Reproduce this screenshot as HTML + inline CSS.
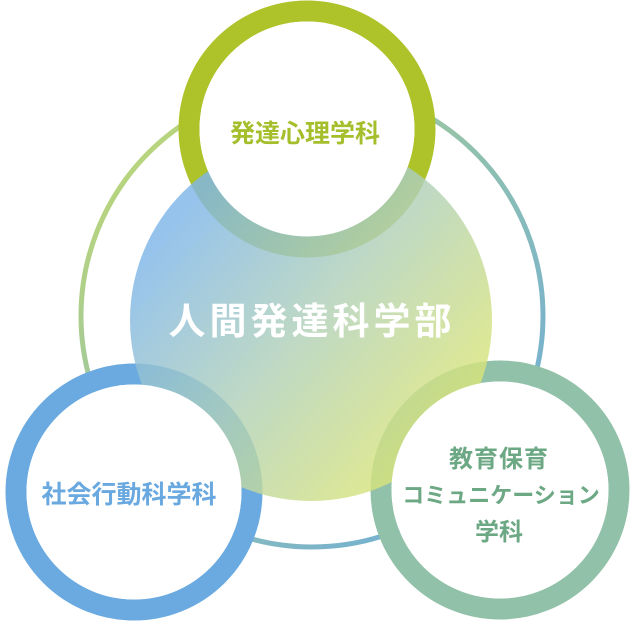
<!DOCTYPE html>
<html><head><meta charset="utf-8"><style>
html,body{margin:0;padding:0;background:#fff;}
svg{display:block}
text{font-family:"Liberation Sans","Noto Sans CJK JP",sans-serif;font-weight:bold;text-anchor:middle}
</style></head><body>
<svg width="631" height="625" viewBox="0 0 631 625" xmlns="http://www.w3.org/2000/svg">
<defs>
<linearGradient id="og" x1="0" y1="0" x2="1" y2="1">
<stop offset="0" stop-color="#c8dc6a"/><stop offset="0.5" stop-color="#8fc0b0"/><stop offset="1" stop-color="#6aaae0"/>
</linearGradient>
<linearGradient id="cg" x1="0.15" y1="0.2" x2="0.85" y2="0.8">
<stop offset="0" stop-color="#7fb6e8"/><stop offset="0.5" stop-color="#b0d0b8"/><stop offset="1" stop-color="#d8e47a"/>
</linearGradient>
</defs>
<circle cx="312" cy="316" r="231" fill="none" stroke="url(#og)" stroke-width="5"/>
<circle cx="307" cy="129" r="118" fill="none" stroke="#aec22a" stroke-width="21"/>
<circle cx="134" cy="492" r="118" fill="none" stroke="#6aaae0" stroke-width="21"/>
<circle cx="500" cy="490" r="119" fill="none" stroke="#92c1a9" stroke-width="21"/>
<circle cx="311" cy="320" r="181" fill="url(#cg)" opacity="0.82"/>
<circle cx="307" cy="129" r="107.5" fill="#fff"/>
<circle cx="134" cy="492" r="107.5" fill="#fff"/>
<circle cx="500" cy="490" r="108.5" fill="#fff"/>
<text x="305" y="142" font-size="25" fill="#a5bf2c">発達心理学科</text>
<text x="312" y="334" font-size="37" fill="#fff" font-weight="normal" letter-spacing="4">人間発達科学部</text>
<text x="129" y="503" font-size="25" fill="#6aa8e0">社会行動科学科</text>
<text x="499" y="467" font-size="24" fill="#6da884" letter-spacing="1">教育保育</text>
<text x="501" y="503" font-size="22" fill="#6da884">コミュニケーション</text>
<text x="499" y="540" font-size="24" fill="#6da884">学科</text>
</svg>
</body></html>
